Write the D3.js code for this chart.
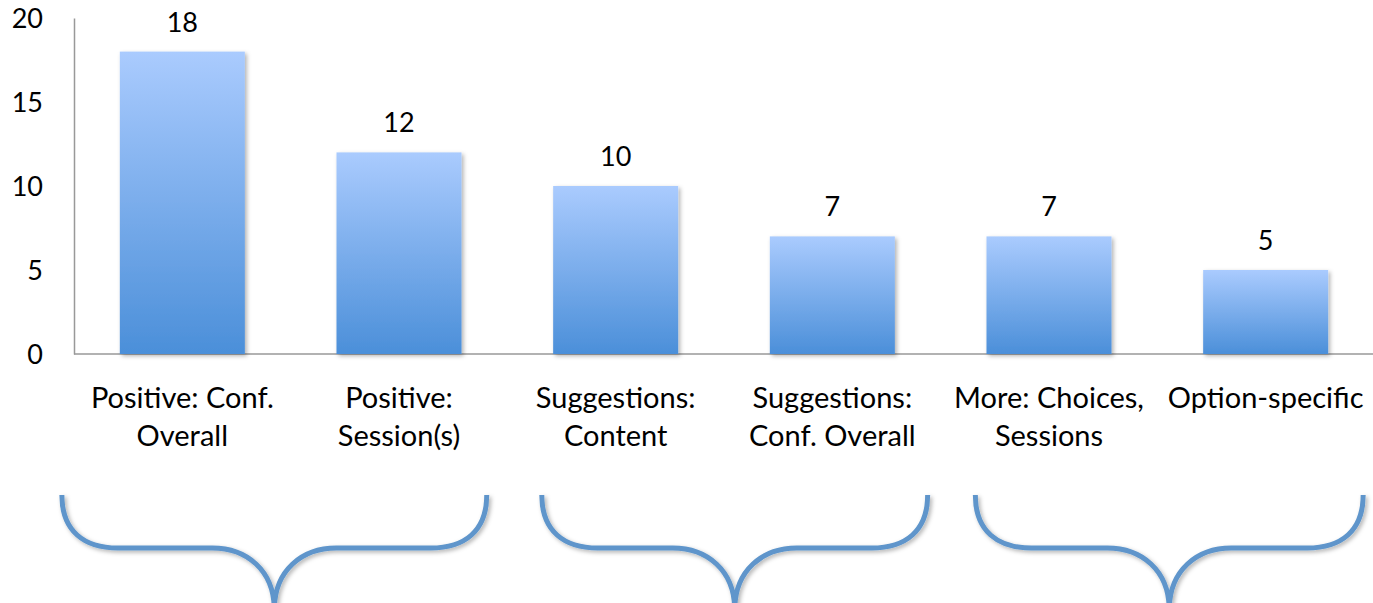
<!DOCTYPE html>
<html>
<head>
<meta charset="utf-8">
<script src="https://cdn.jsdelivr.net/npm/d3@7"></script>
<style>
	body { margin: 0; background: #fff; }
	svg { display: block; }
	text { font-family: Lato, "Open Sans", sans-serif; fill: #000; }
</style>
</head>
<body>
<svg width="1373" height="603"></svg>
<script>
// カテゴリ
var categories = [
	["Positive: Conf.", "Overall"],
	["Positive:", "Session(s)"],
	["Suggestions:", "Content"],
	["Suggestions:", "Conf. Overall"],
	["More: Choices,", "Sessions"],
	["Option-specific"]
];
var values = [18, 12, 10, 7, 7, 5];
var yTicks = [0, 5, 10, 15, 20];

// 括弧のグループ（カテゴリ位置単位）
var braceFrom = [-0.556, 1.659, 3.66];
var braceTo = [1.405, 3.44, 5.45];

var svg = d3.select("svg");
var plotL = 74, plotR = 1374, plotT = 18, plotB = 354;

var x = d3.scaleBand()
	.domain(d3.range(values.length))
	.range([plotL, plotR])
	.paddingInner(0.423)
	.paddingOuter(0.2115);

var y = d3.scaleLinear()
	.domain([0, 20])
	.range([plotB, plotT]);

// カテゴリ位置 → 中心px
var xc = d3.scaleLinear()
	.domain([0, 1])
	.range([x(0) + x.bandwidth() / 2, x(1) + x.bandwidth() / 2]);

var defs = svg.append("defs");
var grad = defs.append("linearGradient")
	.attr("id", "barGrad")
	.attr("x1", 0).attr("y1", 0).attr("x2", 0).attr("y2", 1);
grad.append("stop").attr("offset", "0%").attr("stop-color", "#aacbfe");
grad.append("stop").attr("offset", "100%").attr("stop-color", "#4b8fd9");

var shadow = defs.append("filter").attr("id", "shadow")
	.attr("x", "-10%").attr("y", "-10%").attr("width", "130%").attr("height", "130%");
shadow.append("feDropShadow")
	.attr("dx", 2).attr("dy", 2).attr("stdDeviation", 2)
	.attr("flood-color", "#000").attr("flood-opacity", 0.3);

//軸
var yAxis = d3.axisLeft(y).tickValues(yTicks).tickSize(0).tickPadding(31);
var ga = svg.append("g")
	.attr("transform", "translate(" + plotL + ",0)")
	.call(yAxis);
ga.select(".domain").attr("stroke", "#999").attr("stroke-width", 1.5);
ga.selectAll("text").style("font-size", "27px").attr("dy", "0.35em");

svg.append("line")
	.attr("x1", plotL).attr("x2", plotR)
	.attr("y1", y(0)).attr("y2", y(0))
	.attr("stroke", "#999").attr("stroke-width", 1.5);

//棒
svg.append("g").selectAll("rect")
	.data(values)
	.enter()
	.append("rect")
	.attr("x", function(d, i){ return x(i); })
	.attr("y", function(d){ return y(d); })
	.attr("width", x.bandwidth())
	.attr("height", function(d){ return y(0) - y(d); })
	.attr("fill", "url(#barGrad)")
	.attr("filter", "url(#shadow)");

//値ラベル
svg.append("g").selectAll("text")
	.data(values)
	.enter()
	.append("text")
	.attr("x", function(d, i){ return x(i) + x.bandwidth() / 2; })
	.attr("y", function(d){ return y(d) - 20; })
	.attr("text-anchor", "middle")
	.style("font-size", "27px")
	.text(function(d){ return d; });

//カテゴリラベル
var cat = svg.append("g").selectAll("text")
	.data(categories)
	.enter()
	.append("text")
	.attr("text-anchor", "middle")
	.style("font-size", "29px");
cat.selectAll("tspan")
	.data(function(d, i){ return d.map(function(t){ return {t: t, i: i}; }); })
	.enter()
	.append("tspan")
	.attr("x", function(d){ return x(d.i) + x.bandwidth() / 2; })
	.attr("y", function(d, j){ return 408 + j * 38; })
	.text(function(d){ return d.t; });

//括弧
function bracePath(a, b) {
	var m = (a + b) / 2, y0 = 495, y1 = 548, y2 = 610;
	return "M" + a + "," + y0 +
		"C" + a + "," + (y0 + 36) + " " + (a + 22) + "," + y1 + " " + (a + 56) + "," + y1 +
		"L" + (m - 62) + "," + y1 +
		"C" + (m - 28) + "," + y1 + " " + m + "," + (y1 + 22) + " " + m + "," + y2 +
		"C" + m + "," + (y1 + 22) + " " + (m + 28) + "," + y1 + " " + (m + 62) + "," + y1 +
		"L" + (b - 56) + "," + y1 +
		"C" + (b - 22) + "," + y1 + " " + b + "," + (y0 + 36) + " " + b + "," + y0;
}

svg.append("g").selectAll("path")
	.data(braceFrom)
	.enter()
	.append("path")
	.attr("d", function(d, i){ return bracePath(xc(d), xc(braceTo[i])); })
	.attr("fill", "none")
	.attr("stroke", "#5e95cb")
	.attr("stroke-width", 5)
	.attr("filter", "url(#shadow)");
</script>
</body>
</html>
